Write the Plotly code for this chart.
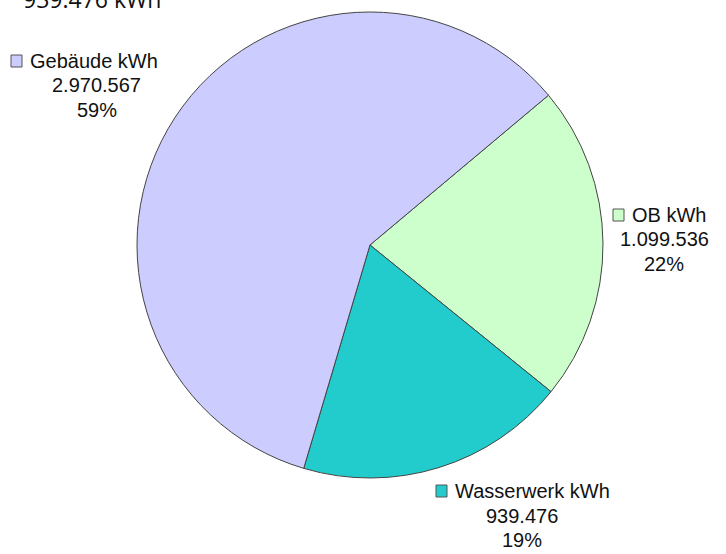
import plotly.graph_objects as go

labels = ["OB kWh", "Wasserwerk kWh", "Gebäude kWh"]
values = [1099536, 939476, 2970567]
value_text = ["1.099.536", "939.476", "2.970.567"]
pct_text = ["22%", "19%", "59%"]
colors = ["#CCFFCC", "#22CCCC", "#CCCCFF"]
top_note = "939.476 kWh"

W, H = 726, 554

def px(x):
    return x / W

def py(y):
    return 1 - y / H

fig = go.Figure(go.Pie(
    labels=labels, values=values, sort=False, direction="clockwise", rotation=50,
    marker=dict(colors=colors, line=dict(color="#444444", width=1)),
    textinfo="none", hoverinfo="label+value+percent",
    domain=dict(x=[px(137), px(603)], y=[py(478), py(12)]),
    showlegend=False,
))

# label positions (pixel coords): square left x, title center y, text block center x
label_pos = {
    "OB kWh": (613, 215, 664),
    "Wasserwerk kWh": (436, 491, 522),
    "Gebäude kWh": (11, 61, 97),
}

font = dict(family="Liberation Sans, Arial", size=20, color="#111111")
for lab, vt, pt, col in zip(labels, value_text, pct_text, colors):
    sx, ty, cx = label_pos[lab]
    fig.add_shape(type="rect", xref="paper", yref="paper",
                  x0=px(sx), x1=px(sx + 11), y0=py(ty + 6), y1=py(ty - 6),
                  fillcolor=col, line=dict(color="#555555", width=1))
    fig.add_annotation(x=px(sx + 17), y=py(ty), xref="paper", yref="paper",
                       text=lab, showarrow=False, xanchor="left", yanchor="middle", font=font)
    fig.add_annotation(x=px(cx), y=py(ty + 24.5), xref="paper", yref="paper",
                       text=vt, showarrow=False, xanchor="center", yanchor="middle", font=font)
    fig.add_annotation(x=px(cx), y=py(ty + 49), xref="paper", yref="paper",
                       text=pt, showarrow=False, xanchor="center", yanchor="middle", font=font)

fig.add_annotation(x=px(92), y=py(-1), xref="paper", yref="paper", text=top_note,
                   showarrow=False, xanchor="center", yanchor="middle",
                   font=dict(family="Open Sans", size=23, color="#111111"))

fig.update_layout(width=W, height=H, margin=dict(l=0, r=0, t=0, b=0),
                  paper_bgcolor="white", plot_bgcolor="white")
fig.write_html("out.html", config={"displayModeBar": False},
               post_script="document.body.style.margin='0';document.body.style.overflow='hidden';")
